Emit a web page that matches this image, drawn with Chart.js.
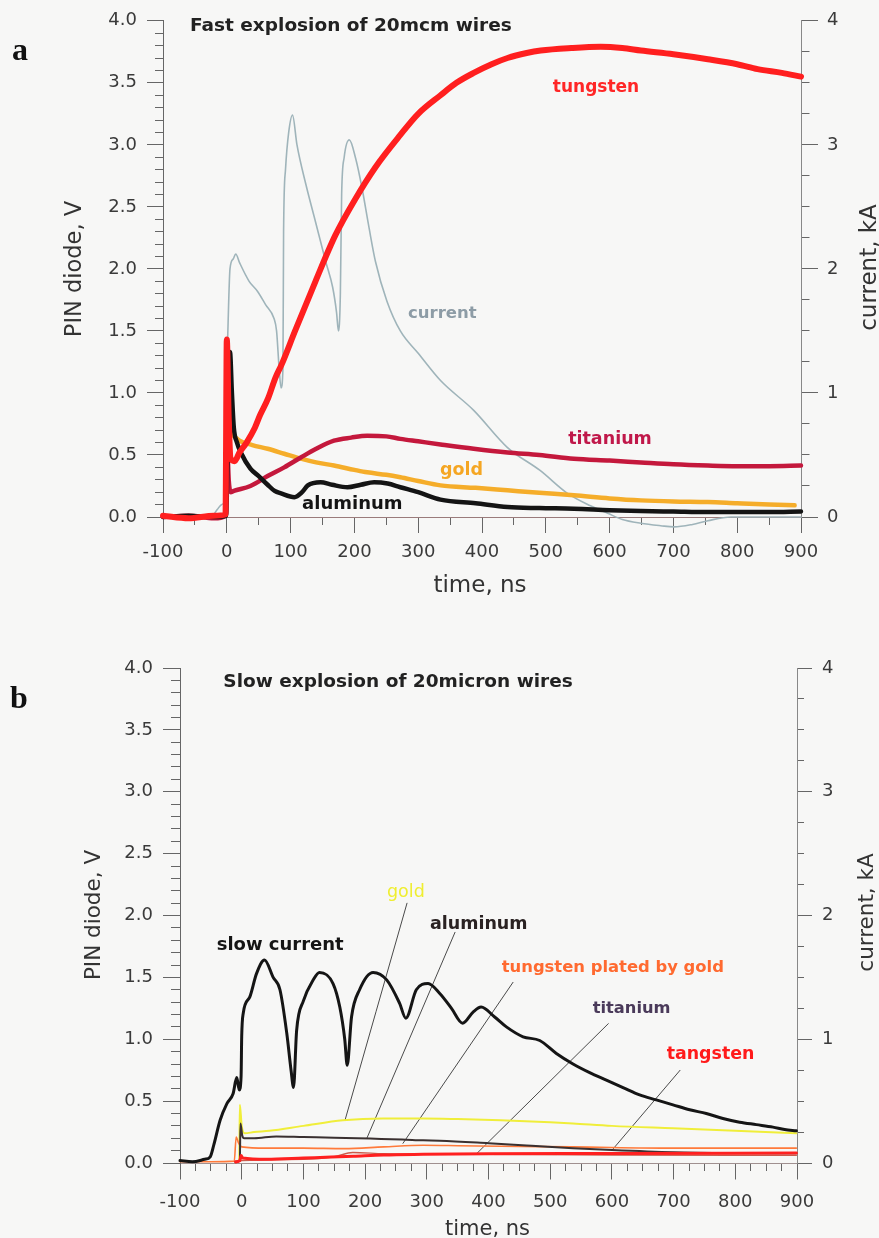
<!DOCTYPE html>
<html><head><meta charset="utf-8">
<script src="https://cdn.jsdelivr.net/npm/chart.js@4.4.1/dist/chart.umd.min.js"></script>
<style>
html,body{margin:0;padding:0;background:#f7f7f6;}
#wrap{position:relative;width:879px;height:1238px;overflow:hidden;}
canvas{position:absolute;left:0;}
#ca{top:0;width:879px;height:610px;}
#cb{top:610px;width:879px;height:628px;}
</style></head><body>
<div id="wrap"><canvas id="ca" width="879" height="610"></canvas><canvas id="cb" width="879" height="628"></canvas></div>
<script>
// ================= DATA : panel a (fast explosion) =================
const timeTungstenA = [-100,-60,-20,-2,0,3,6,12,20,31,44,52,65,76,86,107,139,170,201,233,272,300,335,360,387,415,440,470,492,540,586,620,649,700,754,800,832,870,900];
const tungstenA     = [0.01,-0.01,0.01,0.02,1.43,0.8,0.47,0.45,0.52,0.6,0.72,0.82,0.96,1.12,1.23,1.5,1.9,2.27,2.56,2.82,3.08,3.25,3.40,3.50,3.58,3.65,3.70,3.74,3.76,3.78,3.79,3.78,3.76,3.73,3.69,3.65,3.61,3.58,3.55];

const timeTitaniumA = [-100,-60,-20,-2,0,3,6,11,37,64,90,116,140,168,195,220,250,272,300,335,387,440,490,544,600,649,700,754,800,850,900];
const titaniumA     = [0.0,0.01,-0.01,0.01,0.65,0.3,0.2,0.21,0.25,0.33,0.4,0.48,0.55,0.615,0.64,0.655,0.65,0.63,0.61,0.585,0.55,0.52,0.5,0.47,0.455,0.44,0.425,0.415,0.41,0.41,0.415];

const timeGoldA = [-100,-60,-20,-2,0,4,12,20,40,64,90,116,140,168,200,220,250,272,300,335,390,440,490,544,600,649,700,754,800,850,890];
const goldA     = [0.01,0,0.01,0.02,0.98,0.72,0.65,0.615,0.58,0.55,0.51,0.47,0.44,0.415,0.38,0.36,0.34,0.32,0.29,0.255,0.235,0.215,0.195,0.175,0.15,0.134,0.125,0.12,0.11,0.1,0.094];

const timeAluminumA = [-100,-60,-20,-1,2,5,8,11,16,22,37,50,64,75,85,106,118,127,147,165,189,210,231,252,272,300,335,390,440,490,544,600,649,700,754,800,850,900];
const aluminumA     = [0,0.01,0,0.01,0.8,1.33,1.0,0.72,0.6,0.52,0.39,0.33,0.26,0.21,0.19,0.16,0.2,0.255,0.28,0.26,0.24,0.26,0.28,0.27,0.24,0.2,0.14,0.11,0.08,0.072,0.067,0.055,0.048,0.044,0.04,0.04,0.04,0.045];

const timeCurrentA = [-100,-25,-15,-8,-4,-2,0,1.5,5,10,14,20,35,48,61,74,78,82,85,88,89,92,97,103,110,124,139,155,166,172,175,178,180,184,192,202,212,223,233,251,272,300,335,387,440,491,534,570,597,620,649,680,701,730,754,790,850,900];
const currentA     = [0,0,0.06,0.1,0.12,0.6,1.2,1.47,2.0,2.08,2.12,2.05,1.9,1.82,1.71,1.6,1.5,1.2,1.04,1.2,2.3,2.8,3.1,3.24,3.0,2.68,2.38,2.06,1.85,1.65,1.5,1.8,2.6,2.9,3.04,2.89,2.65,2.33,2.06,1.74,1.5,1.32,1.1,0.86,0.56,0.375,0.19,0.09,0.03,-0.02,-0.05,-0.07,-0.08,-0.06,-0.03,0,0,0];

const labelTextA = ['tungsten','current','titanium','gold','aluminum'];
const labelTimeA = [511,284,535,334,118];
const labelValA  = [3.43,1.606,0.591,0.337,0.062];

// ================= DATA : panel b (slow explosion) =================
const timeSlowCurrentB = [-100,-80,-60,-51,-45,-35,-24,-14,-8,-4,-1,0,2.5,13,24,37,51,62,73,80,84,89,100,116,126,148,159,167,171,178,191,213,235,256,266,283,302,321,340,358,375,388,410,429,456,483,510,537,564,591,618,645,672,699,726,753,780,807,834,861,880,899];
const slowCurrentB     = [0.02,0.01,0.03,0.05,0.15,0.345,0.48,0.56,0.69,0.59,0.7,1.02,1.21,1.34,1.53,1.64,1.5,1.4,1.05,0.75,0.61,1.07,1.31,1.48,1.54,1.45,1.26,1.0,0.79,1.18,1.4,1.54,1.48,1.29,1.17,1.4,1.45,1.37,1.25,1.13,1.22,1.26,1.18,1.1,1.02,0.99,0.885,0.8,0.73,0.67,0.61,0.55,0.51,0.47,0.43,0.4,0.36,0.33,0.31,0.29,0.27,0.26];

const timeGoldB = [-10,-4,-3,0,5,20,45,100,164,229,294,350,420,500,537,600,699,800,899];
const goldB     = [0.01,0.02,0.47,0.3,0.24,0.25,0.26,0.3,0.345,0.36,0.36,0.355,0.345,0.33,0.32,0.3,0.28,0.26,0.24];

const timeAluminumB = [-10,-3,-2,1,4,20,56,100,150,208,260,294,321,400,470,537,600,699,800,899];
const aluminumB     = [0.01,0.02,0.32,0.22,0.2,0.2,0.215,0.21,0.205,0.197,0.19,0.183,0.18,0.16,0.14,0.12,0.105,0.087,0.08,0.078];

const timePlatedB = [-100,-50,-12,-9,-5,0,40,100,166,230,294,350,420,537,699,899];
const platedB     = [0.01,0.01,0.015,0.21,0.16,0.13,0.12,0.12,0.116,0.13,0.143,0.14,0.135,0.13,0.12,0.12];

const timeTangstenB = [-10,-3,-1,2,40,100,127,181,230,294,400,600,899];
const tangstenB     = [0.01,0.02,0.06,0.04,0.03,0.04,0.045,0.055,0.065,0.07,0.075,0.077,0.08];

const timeTitaniumB = [-10,0,100,150,180,230,300,400,600,899];
const titaniumB     = [0.0,0.02,0.03,0.05,0.085,0.075,0.072,0.07,0.065,0.062];

// leader lines (label -> curve), [time start, time end] and [value start, value end]
const leaderTimeB = [[267.9,167.4],[345.7,202.6],[439.7,261.4],[594.2,380.9],[710.4,602.3]];
const leaderValB  = [[2.099,0.345],[1.864,0.197],[1.46,0.159],[1.126,0.076],[0.749,0.116]];

const labelTextB = ['slow current','gold','aluminum','tungsten plated by gold','titanium','tangsten'];
const labelTimeB = [-40.5,235.5,305,421.4,568.9,688.8];
const labelValB  = [1.724,2.15,1.894,1.543,1.212,0.844];

// axis ticks
const xTickStep = 100, yTickStep = 0.5, y2TickStep = 1;

// ================= helpers =================
const pts = (T, V) => T.map((t, i) => ({x: t, y: V[i]}));
const TICKFONT = {family: 'DejaVu Sans', size: 18};
const TICKCOL = '#3a3a3a';

const textPlugin = {
  id: 'texts',
  afterDatasetsDraw(chart, args, opts) {
    const ctx = chart.ctx, xs = chart.scales.x, ys = chart.scales.y;
    ctx.save();
    (opts.labels || []).forEach(l => {
      ctx.font = l.font; ctx.fillStyle = l.color;
      ctx.textAlign = 'left'; ctx.textBaseline = 'alphabetic';
      ctx.fillText(l.text, xs.getPixelForValue(l.t), ys.getPixelForValue(l.v));
    });
    (opts.titles || []).forEach(tt => {
      ctx.save();
      ctx.translate(tt.x, tt.y); ctx.rotate(tt.rot || 0);
      ctx.font = tt.font; ctx.fillStyle = tt.color;
      ctx.textAlign = tt.align || 'center'; ctx.textBaseline = 'alphabetic';
      ctx.fillText(tt.text, 0, 0);
      ctx.restore();
    });
    ctx.restore();
  }
};

function makePanel(id, g, datasets, pluginOpts) {
  const gridBase = {drawOnChartArea: false, drawTicks: true, tickWidth: 1, tickColor: '#666'};
  return new Chart(document.getElementById(id), {
    type: 'line',
    data: {datasets},
    options: {
      responsive: false, animation: false, devicePixelRatio: 1,
      layout: {padding: {top: g.top, left: 0, right: 0, bottom: 0}},
      plugins: {legend: {display: false}, tooltip: {enabled: false}, texts: pluginOpts},
      elements: {point: {radius: 0}, line: {cubicInterpolationMode: 'monotone', borderJoinStyle: 'round', borderCapStyle: 'round'}},
      scales: {
        x: {type: 'linear', axis: 'x', position: 'bottom', weight: 1, min: -100, max: 900,
            ticks: {stepSize: xTickStep, font: TICKFONT, color: TICKCOL, padding: g.xPad, maxRotation: 0, autoSkip: false, callback: v => String(v)},
            grid: {...gridBase, tickLength: g.xMaj},
            border: {display: true, color: g.xAxisCol, width: 1},
            afterFit: s => { s.height = g.H - g.bottom; }},
        xm: {type: 'linear', axis: 'x', position: 'bottom', weight: 0, min: -100, max: 900,
            ticks: {stepSize: g.xMinStep, display: false, autoSkip: false},
            grid: {...gridBase, tickLength: g.xMin},
            border: {display: false},
            afterFit: s => { s.height = 0; }},
        y: {type: 'linear', axis: 'y', position: 'left', weight: 1, min: 0, max: 4,
            ticks: {stepSize: yTickStep, font: TICKFONT, color: TICKCOL, padding: g.yPad, autoSkip: false, callback: v => v.toFixed(1)},
            grid: {...gridBase, tickLength: g.yMaj},
            border: {display: true, color: '#666', width: 1},
            afterFit: s => { s.width = g.left; }},
        ym: {type: 'linear', axis: 'y', position: 'left', weight: 0, min: 0, max: 4,
            ticks: {stepSize: 0.1, display: false, autoSkip: false},
            grid: {...gridBase, tickLength: g.yMin},
            border: {display: false},
            afterFit: s => { s.width = 0; }},
        y2: {type: 'linear', axis: 'y', position: 'right', weight: 1, min: 0, max: 4,
            ticks: {stepSize: y2TickStep, font: TICKFONT, color: TICKCOL, padding: g.y2Pad, autoSkip: false, callback: v => String(v)},
            grid: {...gridBase, tickLength: g.y2Maj},
            border: {display: true, color: '#888', width: 1},
            afterFit: s => { s.width = g.W - g.right; }},
        y2m: {type: 'linear', axis: 'y', position: 'right', weight: 0, min: 0, max: 4,
            ticks: {stepSize: 0.25, display: false, autoSkip: false},
            grid: {...gridBase, tickLength: g.y2Min},
            border: {display: false},
            afterFit: s => { s.width = 0; }}
      }
    },
    plugins: [textPlugin]
  });
}

function ds(T, V, color, width, yAxis) {
  return {data: pts(T, V), borderColor: color, borderWidth: width, xAxisID: 'x', yAxisID: yAxis || 'y',
          clip: {left: 6, right: 6, top: 10, bottom: 25}, pointRadius: 0, fill: false};
}

// ================= panel a =================
const geoA = {W: 879, H: 610, left: 163, right: 801, top: 18, bottom: 517,
  xMaj: 16, xMin: 8, xMinStep: 50, yMaj: 16, yMin: 8, y2Maj: 17, y2Min: 8.5,
  xPad: 9, yPad: 10, y2Pad: 9, xAxisCol: '#9a7b7b'};
const colA = {tungsten: '#ff1f1f', titanium: '#c4183c', gold: '#f5ad2a', aluminum: '#141414', current: '#9fb4ba'};
const labelColA = ['#ff2626', '#8d9ca6', '#c0184a', '#f5a623', '#141414'];
const labelFontA = ['bold 17px "DejaVu Sans"', 'bold 16.5px "DejaVu Sans"', 'bold 17.5px "DejaVu Sans"', 'bold 17.5px "DejaVu Sans"', 'bold 18px "DejaVu Sans"'];

makePanel('ca', geoA, [
  ds(timeTungstenA, tungstenA, colA.tungsten, 6),
  ds(timeAluminumA, aluminumA, colA.aluminum, 4.5),
  ds(timeTitaniumA, titaniumA, colA.titanium, 4.5),
  ds(timeGoldA, goldA, colA.gold, 4.5),
  ds(timeCurrentA, currentA, colA.current, 1.6, 'y2')
], {
  labels: labelTextA.map((t, i) => ({text: t, t: labelTimeA[i], v: labelValA[i], color: labelColA[i], font: labelFontA[i]}))
    .concat([{text: 'Fast explosion of 20mcm wires', t: -57.7, v: 3.917, color: '#222', font: 'bold 18.5px "DejaVu Sans"'}]),
  titles: [
    {text: 'a', x: 12, y: 60, rot: 0, align: 'left', font: 'bold 32px "Liberation Serif"', color: '#111'},
    {text: 'PIN diode, V', x: 81, y: 269, rot: -Math.PI / 2, font: '22.5px "DejaVu Sans"', color: '#333'},
    {text: 'current, kA', x: 876, y: 267.5, rot: -Math.PI / 2, font: '23px "DejaVu Sans"', color: '#333'},
    {text: 'time, ns', x: 480, y: 591.5, rot: 0, font: '23px "DejaVu Sans"', color: '#333'}
  ]
});

// ================= panel b =================
const geoB = {W: 879, H: 628, left: 180, right: 797, top: 58, bottom: 553,
  xMaj: 16.5, xMin: 8, xMinStep: 25, yMaj: 17, yMin: 9, y2Maj: 15, y2Min: 7,
  xPad: 12, yPad: 10, y2Pad: 10, xAxisCol: '#a09090'};
const colB = {slow: '#151515', gold: '#f0ee3a', aluminum: '#3a3030', plated: '#ff7a3a', tangsten: '#ff2020', titanium: '#cc5a4a', leader: '#4a4a4a'};
const labelColB = ['#151515', '#efee30', '#2a2222', '#ff6a30', '#4a3a5a', '#ff1a1a'];
const labelFontB = ['bold 18px "DejaVu Sans"', '17.5px "DejaVu Sans"', 'bold 17.5px "DejaVu Sans"', 'bold 16.4px "DejaVu Sans"', 'bold 16.3px "DejaVu Sans"', 'bold 17.4px "DejaVu Sans"'];

const leaderSets = leaderTimeB.map((T, i) => ds(T, leaderValB[i], colB.leader, 1));
makePanel('cb', geoB, [
  ds(timeSlowCurrentB, slowCurrentB, colB.slow, 3, 'y2'),
  ds(timeTangstenB, tangstenB, colB.tangsten, 3),
  ds(timeAluminumB, aluminumB, colB.aluminum, 2),
  ds(timePlatedB, platedB, colB.plated, 1.6),
  ds(timeTitaniumB, titaniumB, colB.titanium, 1.4),
  ds(timeGoldB, goldB, colB.gold, 2)
].concat(leaderSets), {
  labels: labelTextB.map((t, i) => ({text: t, t: labelTimeB[i], v: labelValB[i], color: labelColB[i], font: labelFontB[i]}))
    .concat([{text: 'Slow explosion of 20micron wires', t: -29.8, v: 3.848, color: '#222', font: 'bold 18.5px "DejaVu Sans"'}]),
  titles: [
    {text: 'b', x: 10, y: 98, rot: 0, align: 'left', font: 'bold 32px "Liberation Serif"', color: '#111'},
    {text: 'PIN diode, V', x: 99.5, y: 305, rot: -Math.PI / 2, font: '21.5px "DejaVu Sans"', color: '#333'},
    {text: 'current, kA', x: 873, y: 302.5, rot: -Math.PI / 2, font: '21.5px "DejaVu Sans"', color: '#333'},
    {text: 'time, ns', x: 487.5, y: 625, rot: 0, font: '21px "DejaVu Sans"', color: '#333'}
  ]
});
</script>
</body></html>
